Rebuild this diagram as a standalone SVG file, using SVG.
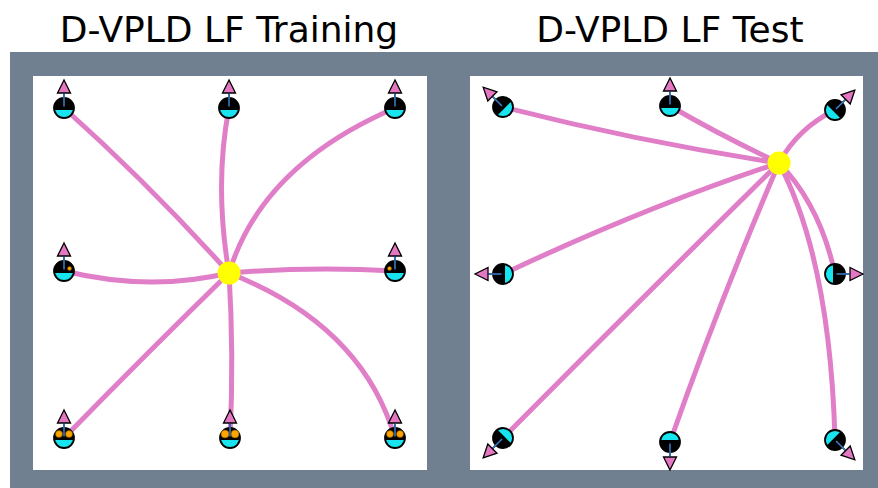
<svg xmlns="http://www.w3.org/2000/svg" xmlns:xlink="http://www.w3.org/1999/xlink" width="878" height="488" viewBox="0 0 878 488">
  <style>
    .title { font-family: "DejaVu Sans", "Liberation Sans", sans-serif; font-size: 36px; fill: #000; text-anchor: middle; }
    .edge { fill: none; stroke: #e07fc8; stroke-width: 5; stroke-linecap: round; }
    .hub { fill: #ffff00; }
    .eye-big { fill: #ffa500; stroke: #7a4a00; stroke-width: 0.6; }
    .eye-small { fill: #ffa500; stroke: #7a4a00; stroke-width: 0.5; }
  </style>
  <defs>
    <!-- agent glyph facing up, centred on its body -->
    <g id="agent">
      <line x1="0" y1="-15" x2="0" y2="-9" stroke="#000" stroke-width="1.6"/>
      <polygon points="0,-28 -6.5,-15 6.5,-15" fill="#e377c2" stroke="#000" stroke-width="1.3"/>
      <circle r="10" fill="#18e4ef"/>
      <path d="M -10 0 A 10 10 0 0 1 10 0 L 10 2 L -10 2 Z" fill="#000"/>
      <circle r="10" fill="none" stroke="#000" stroke-width="1.8"/>
      <line x1="0" y1="-14.5" x2="0" y2="-1.5" stroke="#3d7fd0" stroke-width="1.5"/>
    </g>
  </defs>

  <!-- frame -->
  <rect x="0" y="0" width="878" height="488" fill="#ffffff"/>
  <rect x="10" y="52" width="868" height="436" fill="#708090"/>
  <rect x="33" y="76" width="394" height="394" fill="#ffffff"/>
  <rect x="470" y="76" width="393" height="394" fill="#ffffff"/>

  <text class="title" x="229" y="42">D-VPLD LF Training</text>
  <text class="title" x="670" y="42">D-VPLD LF Test</text>

  <!-- connectors -->
  <g id="edges">
    <path class="edge" d="M 229 273 Q 150 185 64 108"/>
    <path class="edge" d="M 229 273 Q 214 185 229 108"/>
    <path class="edge" d="M 229 273 Q 262 165 395 108"/>
    <path class="edge" d="M 229 273 Q 150 292 64 271"/>
    <path class="edge" d="M 229 273 Q 312 266 395 271"/>
    <path class="edge" d="M 229 273 Q 150 350 64 438"/>
    <path class="edge" d="M 229 273 Q 234 355 230 438"/>
    <path class="edge" d="M 229 273 Q 362 325 395 438"/>

    <path class="edge" d="M 779 163 Q 640 142 503 107"/>
    <path class="edge" d="M 779 163 Q 720 135 670 106"/>
    <path class="edge" d="M 779 163 Q 798 128 835 110"/>
    <path class="edge" d="M 779 163 Q 650 205 503 274"/>
    <path class="edge" d="M 779 163 Q 820 205 835 274"/>
    <path class="edge" d="M 779 163 Q 640 300 503 438"/>
    <path class="edge" d="M 779 163 Q 720 300 670 442"/>
    <path class="edge" d="M 779 163 Q 830 260 835 440"/>
  </g>

  <!-- training agents -->
  <g id="train-n1"><use xlink:href="#agent" transform="translate(64,108)"/></g>
  <g id="train-n2"><use xlink:href="#agent" transform="translate(229,108)"/></g>
  <g id="train-n3"><use xlink:href="#agent" transform="translate(395,108)"/></g>
  <g id="train-n4"><use xlink:href="#agent" transform="translate(64,271)"/><circle class="eye-small" cx="69.5" cy="268.5" r="2"/></g>
  <g id="train-n5"><use xlink:href="#agent" transform="translate(395,271)"/><circle class="eye-small" cx="389.5" cy="268.5" r="2"/></g>
  <g id="train-n6"><use xlink:href="#agent" transform="translate(64,438)"/><circle class="eye-big" cx="59" cy="434" r="3.5"/><circle class="eye-big" cx="69" cy="434" r="3.5"/></g>
  <g id="train-n7"><use xlink:href="#agent" transform="translate(230,438)"/><circle class="eye-big" cx="225" cy="434" r="4"/><circle class="eye-big" cx="235" cy="434" r="4"/></g>
  <g id="train-n8"><use xlink:href="#agent" transform="translate(395,438)"/><circle class="eye-big" cx="390" cy="434" r="3.5"/><circle class="eye-big" cx="400" cy="434" r="3.5"/></g>
  <g id="train-hub"><circle class="hub" cx="229" cy="273" r="11.5"/></g>

  <!-- test agents -->
  <g id="test-n1"><use xlink:href="#agent" transform="translate(503,107) rotate(-45)"/></g>
  <g id="test-n2"><use xlink:href="#agent" transform="translate(670,106)"/></g>
  <g id="test-n3"><use xlink:href="#agent" transform="translate(835,110) rotate(45)"/></g>
  <g id="test-n4"><use xlink:href="#agent" transform="translate(503,274) rotate(-90)"/></g>
  <g id="test-n5"><use xlink:href="#agent" transform="translate(835,274) rotate(90)"/></g>
  <g id="test-n6"><use xlink:href="#agent" transform="translate(503,438) rotate(-135)"/></g>
  <g id="test-n7"><use xlink:href="#agent" transform="translate(670,442) rotate(180)"/></g>
  <g id="test-n8"><use xlink:href="#agent" transform="translate(835,440) rotate(135)"/></g>
  <g id="test-hub"><circle class="hub" cx="779" cy="163" r="11.5"/></g>
</svg>
